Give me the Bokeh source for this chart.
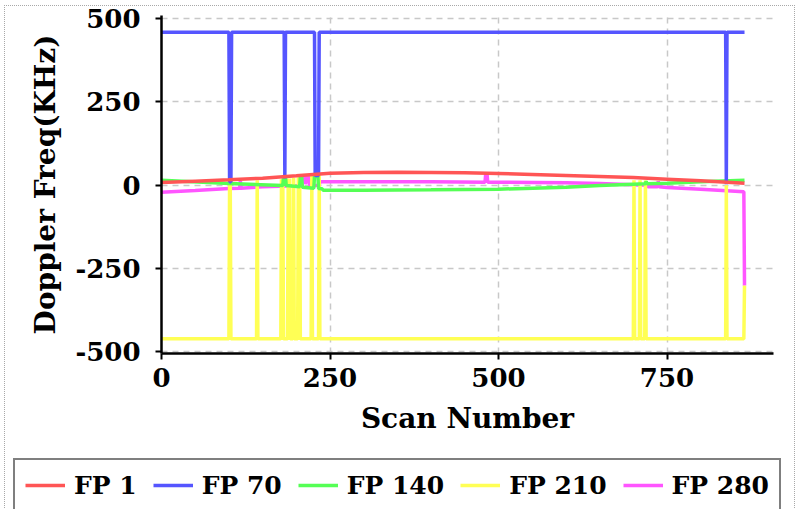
from bokeh.plotting import figure
from bokeh.models import Legend, LegendItem, FixedTicker, Range1d
from bokeh.layouts import column
from bokeh.embed import file_html
from bokeh.resources import INLINE

# ---- data (scan number, Doppler frequency in kHz) ----
series_labels = ["FP 1", "FP 70", "FP 140", "FP 210", "FP 280"]
series_colors = ["#ff5555", "#5555ff", "#55ff55", "#ffff55", "#ff55ff"]

scan_fp1 = [0, 50, 100, 150, 200, 250, 300, 350, 400, 450, 500, 550, 600, 650, 700, 750, 800, 865]
dop_fp1 = [8, 12, 16, 21, 28, 36, 38, 39, 38, 37, 35, 32, 29, 26, 23, 18, 13, 6]

scan_fp70 = [0, 100, 101, 103, 104, 182, 183, 184, 227, 228, 233, 234, 837, 838, 839, 865]
dop_fp70 = [460, 460, 10, 10, 460, 460, 20, 460, 460, 29, 29, 460, 460, 3, 460, 460]

scan_fp140 = [0, 100, 180, 181, 184, 185, 205, 206, 208, 209, 226, 227, 232, 233, 238, 240,
              300, 400, 500, 600, 650, 700, 718, 719, 720, 750, 800, 865]
dop_fp140 = [15, 5, -1, 25, 25, -1, -5, 26, 26, -6, -9, 27, 27, -10, -11, -15,
             -15, -14, -12, -6, -1, 3, 4, 12, 4, 6, 10, 15]

scan_fp210 = [0, 100, 101, 102, 103, 141, 142, 143, 177, 178, 179, 180, 181,
              187, 188, 189, 190, 191, 195, 196, 197, 202, 203, 204, 205, 206,
              222, 223, 224, 233, 234, 235, 700, 701, 702, 709, 710, 711,
              717, 718, 719, 837, 838, 839, 864, 865]
dop_fp210 = [-462, -462, 8, 8, -462, -462, 15, -462, -462, 18, -462, 18, -462,
             -462, 20, -462, 20, -462, -462, 22, -462, -462, 24, -462, 24, -462,
             -462, 28, -462, -462, 30, -462, -462, 15, -462, -462, 15, -462,
             -462, 14, -462, -462, 0, -462, -462, -302]

scan_fp280 = [0, 50, 100, 116, 117, 118, 150, 200, 208, 209, 213, 214, 216, 219, 220,
              234, 235, 300, 400, 480, 481, 483, 484, 550, 600, 650, 700, 720, 722,
              736, 737, 738, 750, 800, 864, 865]
dop_fp280 = [-21, -16, -10, -9, 13, -9, -5, -2, -2, 25, 25, 3, 25, 25, -1,
             0, 10, 10, 10, 9, 33, 33, 9, 8, 7, 5, 1, 0, -5,
             -5, 12, -5, -7, -12, -20, -302]

x_ticks = [0, 250, 500, 750]
x_tick_labels = ["0", "250", "500", "750"]
y_ticks = [-500, -250, 0, 250, 500]
y_tick_labels = ["-500", "-250", "0", "250", "500"]

scans = [scan_fp1, scan_fp70, scan_fp140, scan_fp210, scan_fp280]
dops = [dop_fp1, dop_fp70, dop_fp140, dop_fp210, dop_fp280]

FONT = "DejaVu Serif"
W = 789

p = figure(width=W, height=450, output_backend="svg", toolbar_location=None,
           x_range=Range1d(0, 908), y_range=Range1d(-506, 510),
           min_border_left=156, min_border_right=21, min_border_top=9, min_border_bottom=103,
           x_axis_label="Scan Number", y_axis_label="Doppler Freq(KHz)")
p.frame_align = False
p.outline_line_color = None
p.background_fill_color = "white"
p.border_fill_color = "white"

# draw in reverse so FP 1 is on top
renderers = [None] * 5
for i in reversed(range(5)):
    renderers[i] = p.line(scans[i], dops[i], line_color=series_colors[i], line_width=3.5)

for ax in (p.xaxis[0], p.yaxis[0]):
    ax.axis_line_color = "black"
    ax.axis_line_width = 2.5
    ax.major_tick_line_color = "black"
    ax.major_tick_line_width = 2
    ax.major_tick_out = 6
    ax.major_tick_in = 0
    ax.minor_tick_line_color = None
    ax.major_label_text_font = FONT
    ax.major_label_text_font_style = "bold"
    ax.major_label_text_font_size = "26px"
    ax.major_label_text_color = "black"
    ax.axis_label_text_font = FONT
    ax.axis_label_text_font_style = "bold"
    ax.axis_label_text_font_size = "28px"
    ax.axis_label_text_color = "black"

p.xaxis.major_label_standoff = 8
p.yaxis.major_label_standoff = 15
p.xaxis.axis_label_standoff = 12
p.yaxis.axis_label_standoff = 10

p.xaxis.ticker = FixedTicker(ticks=x_ticks)
p.yaxis.ticker = FixedTicker(ticks=y_ticks)
p.xaxis.major_label_overrides = {t: s for t, s in zip(x_ticks, x_tick_labels)}
p.yaxis.major_label_overrides = {t: s for t, s in zip(y_ticks, y_tick_labels)}

for g in (p.xgrid[0], p.ygrid[0]):
    g.grid_line_color = "#c8c8c8"
    g.grid_line_width = 1.5
    g.grid_line_dash = "6 5"

# ---- legend strip below the chart ----
L_H = 53
pl = figure(width=W, height=L_H, output_backend="svg", toolbar_location=None,
            x_range=Range1d(0, W), y_range=Range1d(0, L_H),
            x_axis_type=None, y_axis_type=None,
            min_border_left=0, min_border_right=0, min_border_top=0, min_border_bottom=0)
pl.frame_align = False
pl.outline_line_color = None
pl.grid.visible = False
pl.background_fill_color = "white"
pl.border_fill_color = "white"

# one-point lines (draw nothing) that only carry each series' style for the legend
legend_renderers = [pl.line(x=scans[i][:1], y=dops[i][:1], line_color=series_colors[i], line_width=3.5)
                    for i in range(5)]
legend = Legend(items=[LegendItem(label=series_labels[i], renderers=[legend_renderers[i]]) for i in range(5)],
                orientation="horizontal", location=(8, -3))
legend.label_text_font = FONT
legend.label_text_font_style = "bold"
legend.label_text_font_size = "25px"
legend.label_text_color = "black"
legend.glyph_width = 40
legend.glyph_height = 30
legend.label_height = 30
legend.label_standoff = 9
legend.spacing = 16
legend.padding = 10
legend.margin = 0
legend.border_line_color = "black"
legend.border_line_width = 2.5
legend.background_fill_color = "white"
legend.background_fill_alpha = 1
pl.add_layout(legend, "center")

layout = column(p, pl, spacing=0)
layout.styles = {"border": "1px dotted #a8a8a8", "margin-left": "4px", "margin-top": "5px"}

open("out.html", "w").write(file_html(layout, INLINE))
